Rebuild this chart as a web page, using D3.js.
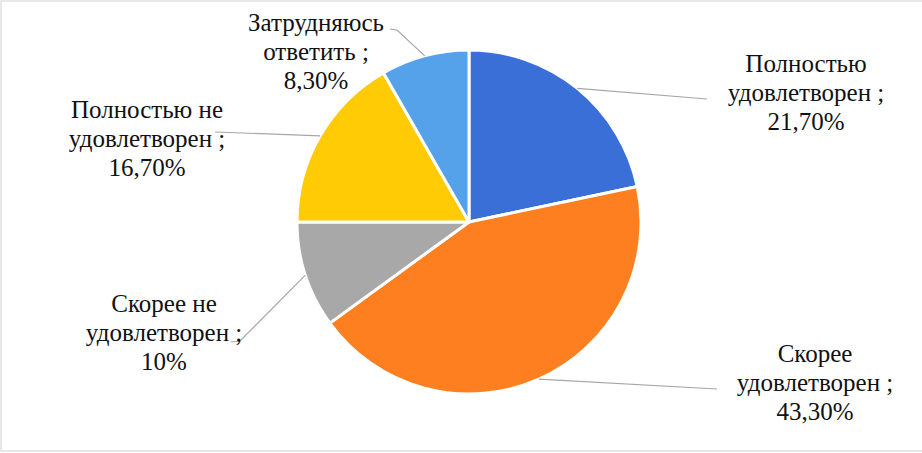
<!DOCTYPE html>
<html><head><meta charset="utf-8">
<script src="https://cdn.jsdelivr.net/npm/d3@7"></script>
<style>
html,body{margin:0;padding:0;background:#fff;}
svg{display:block;}
svg text{font-family:"Liberation Serif","Times New Roman",Tinos,serif;}
</style>
</head><body>
<svg id="c" width="922" height="453"></svg>
<script>
const categories = ["Полностью удовлетворен", "Скорее удовлетворен", "Скорее не удовлетворен", "Полностью не удовлетворен", "Затрудняюсь ответить"];
const values = [21.7, 43.3, 10, 16.7, 8.3];
const valueLabels = ["21,70%", "43,30%", "10%", "16,70%", "8,30%"];
const labelLines = [
  ["Полностью", "удовлетворен ;", "21,70%"],
  ["Скорее", "удовлетворен ;", "43,30%"],
  ["Скорее не", "удовлетворен ;", "10%"],
  ["Полностью не", "удовлетворен ;", "16,70%"],
  ["Затрудняюсь", "ответить ;", "8,30%"]
];
const colors = ["#3A6FD8", "#FE7F1F", "#A8A8A8", "#FFCB05", "#55A2EA"];

// layout (not data)
const cx = 469, cy = 222, R = 172;
const labelPos = [[806, 72], [815, 362], [164, 312], [147, 118], [316, 31]];
const leaderEnds = [[[707, 99]], [[717, 389]], [[240, 341], [231, 342]], [[215, 132]], [[397, 30], [390, 29]]];

const svg = d3.select("#c");
svg.append("rect").attr("x", 1).attr("y", 1).attr("width", 922).attr("height", 450)
  .attr("fill", "#fff").attr("stroke", "#e8e8e8").attr("stroke-width", 2);

const pie = d3.pie().sort(null).value(d => d)(values);
const arc = d3.arc().innerRadius(0).outerRadius(R);
const g = svg.append("g").attr("transform", `translate(${cx},${cy})`);
g.selectAll("path").data(pie).join("path")
  .attr("d", arc).attr("fill", (d, i) => colors[i])
  .attr("stroke", "#fff").attr("stroke-width", 3).attr("stroke-linejoin", "round");

// leader lines
pie.forEach((d, i) => {
  const a = (d.startAngle + d.endAngle) / 2;
  const p0 = [cx + R * Math.sin(a), cy - R * Math.cos(a)];
  const pts = [p0].concat(leaderEnds[i]);
  svg.append("path").attr("d", d3.line()(pts))
    .attr("fill", "none").attr("stroke", "#a6a6a6").attr("stroke-width", 1.2);
});

// labels
labelLines.forEach((lines, i) => {
  const t = svg.append("text").attr("x", labelPos[i][0]).attr("y", labelPos[i][1])
    .attr("text-anchor", "middle")
    .attr("font-family", "Liberation Serif")
    .attr("font-size", 25).attr("fill", "#111");
  lines.forEach((l, j) => {
    t.append("tspan").attr("x", labelPos[i][0]).attr("dy", j === 0 ? 0 : 29).text(l);
  });
});
</script>
</body></html>
